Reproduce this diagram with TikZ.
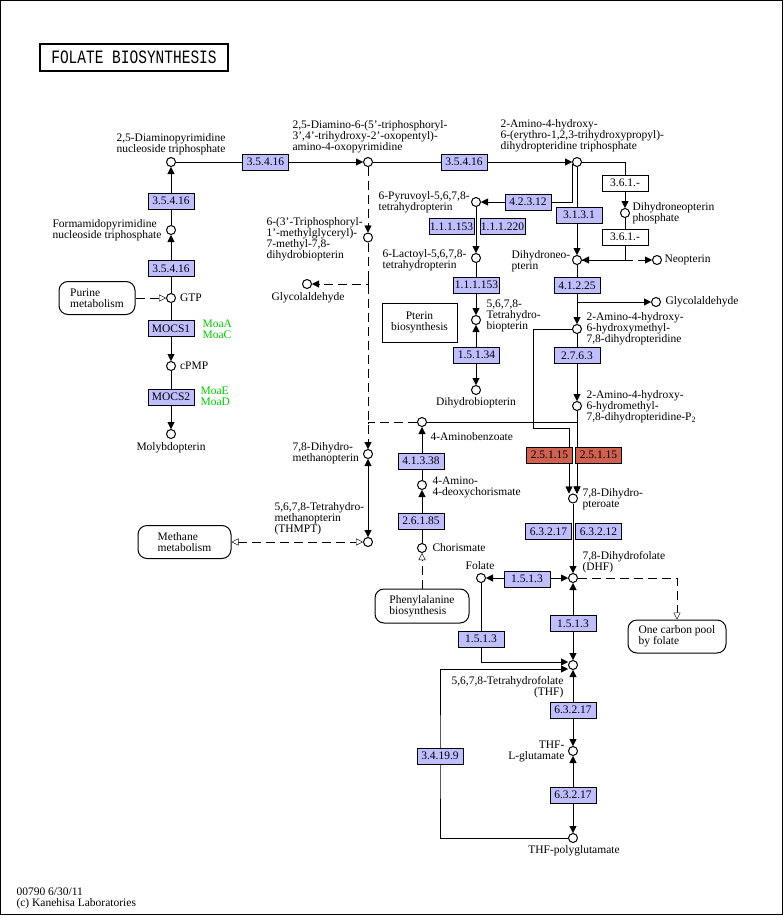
\documentclass[tikz,border=0pt]{standalone}
\usepackage{fontspec}
\setmainfont{Liberation Serif}
\setmonofont{Liberation Mono}
\usepackage{graphicx}
\usetikzlibrary{arrows.meta}
\definecolor{enzblue}{HTML}{BFBFFF}
\definecolor{enzred}{HTML}{D06050}
\definecolor{genegreen}{HTML}{00CC00}
\pgfdeclarelayer{bg}
\pgfsetlayers{bg,main}
\begin{document}
\begin{tikzpicture}[x=1pt,y=-1pt,
    font=\fontsize{11.5}{11}\selectfont,
    line width=1.1pt,
    >={Triangle[length=7pt,width=7pt]},
    hollow/.tip={Triangle[length=7pt,width=7pt,fill=white]},
    cpd/.style={circle,draw,fill=white,minimum size=9pt,inner sep=0pt,line width=1pt},
    enz/.style={draw,fill=enzblue,minimum width=46pt,minimum height=16pt,inner sep=0pt,line width=1pt},
    hit/.style={enz,fill=enzred},
    plain/.style={enz,fill=white},
    lbl/.style={inner sep=0pt,align=left},
    gene/.style={lbl,text=genegreen},
    mapbox/.style={draw,rounded corners=9pt,align=left,inner sep=0pt,line width=1pt},
    dashline/.style={dash pattern=on 9pt off 5pt}]
  \useasboundingbox (0,0) rectangle (784,916);
  \draw[line width=1.4pt] (0.7,0.7) rectangle (782.3,914.3);
  \node[draw,line width=2.4pt,minimum width=188pt,minimum height=27pt,inner sep=0pt] (title) at (134,57.5)
    {\scalebox{1}[1.3]{\ttfamily\fontsize{14.5}{14.5}\selectfont FOLATE BIOSYNTHESIS}};

  % GTP and molybdopterin
  \node[cpd] (dapt) at (171,162) {};
  \node[lbl,align=center] (daptlab) at (171,144.5) {2,5-Diaminopyrimidine\\nucleoside triphosphate};
  \node[enz] (e1) at (171,201) {3.5.4.16};
  \node[cpd] (fapt) at (171,230) {};
  \node[lbl,anchor=west] (faptlab) at (52,230.5) {Formamidopyrimidine\\nucleoside triphosphate};
  \node[enz] (e2) at (171,268.5) {3.5.4.16};
  \node[cpd] (gtp) at (171,298) {};
  \node[lbl,anchor=west] (gtplab) at (179.5,298) {GTP};
  \node[mapbox,minimum width=76pt,minimum height=33pt] (purine) at (97,298) {Purine\\metabolism};
  \node[enz] (mocs1) at (171,328.5) {MOCS1};
  \node[gene,anchor=west] (moa1) at (202,329) {MoaA\\MoaC};
  \node[cpd] (cpmp) at (171,366) {};
  \node[lbl,anchor=west] (cpmplab) at (179.5,366) {cPMP};
  \node[enz] (mocs2) at (171,397) {MOCS2};
  \node[gene,anchor=west] (moa2) at (200,396.5) {MoaE\\MoaD};
  \node[cpd] (molyb) at (171,434) {};
  \node[lbl] (molyblab) at (171,447.5) {Molybdopterin};

  % top row
  \node[enz] (e3) at (265.5,162) {3.5.4.16};
  \node[cpd] (dapo) at (368,162) {};
  \node[lbl,anchor=west] (dapolab) at (292,136.5) {2,5-Diamino-6-(5'-triphosphoryl-\\3',4'-trihydroxy-2'-oxopentyl)-\\amino-4-oxopyrimidine};
  \node[enz] (e4) at (464,162) {3.5.4.16};
  \node[cpd] (ahtp) at (577,162) {};
  \node[lbl,anchor=west] (ahtplab) at (500,136) {2-Amino-4-hydroxy-\\6-(erythro-1,2,3-trihydroxypropyl)-\\dihydropteridine triphosphate};

  % dihydroneopterin
  \node[plain] (e5) at (625,183) {3.6.1.-};
  \node[cpd] (dnp) at (625,213) {};
  \node[lbl,anchor=west] (dnplab) at (632,213) {Dihydroneopterin\\phosphate};
  \node[plain] (e6) at (625,237) {3.6.1.-};
  \node[enz] (e26) at (579,215) {3.1.3.1};
  \node[cpd] (dhn) at (577,260) {};
  \node[lbl,anchor=west] (dhnlab) at (511,261) {Dihydroneo-\\pterin};
  \node[cpd] (neo) at (657,260) {};
  \node[lbl,anchor=west] (neolab) at (664,260) {Neopterin};
  \node[enz] (e7) at (577,285.5) {4.1.2.25};
  \node[cpd] (glyb) at (656,302) {};
  \node[lbl,anchor=west] (glyblab) at (665,302) {Glycolaldehyde};
  \node[cpd] (ahm) at (577,329) {};
  \node[lbl,anchor=west] (ahmlab) at (586,328.5) {2-Amino-4-hydroxy-\\6-hydroxymethyl-\\7,8-dihydropteridine};
  \node[enz] (e8) at (577,355.5) {2.7.6.3};
  \node[cpd] (ahmp) at (577,406) {};
  \node[lbl,anchor=west] (ahmplab) at (586,406.5) {2-Amino-4-hydroxy-\\6-hydromethyl-\\7,8-dihydropteridine-P\textsubscript{2}};

  % biopterin
  \node[enz] (e9) at (528,202) {4.2.3.12};
  \node[cpd] (pyr) at (476,202) {};
  \node[lbl,anchor=west] (pyrlab) at (378,202.5) {6-Pyruvoyl-5,6,7,8-\\tetrahydropterin};
  \node[enz,minimum width=45pt] (e10) at (451.5,226.5) {1.1.1.153};
  \node[enz,minimum width=45pt] (e11) at (502.5,226.5) {1.1.1.220};
  \node[cpd] (lac) at (476,258) {};
  \node[lbl,anchor=west] (laclab) at (382,260) {6-Lactoyl-5,6,7,8-\\tetrahydropterin};
  \node[enz] (e12) at (476.5,285) {1.1.1.153};
  \node[cpd] (thb) at (476,320) {};
  \node[lbl,anchor=west] (thblab) at (486,315.5) {5,6,7,8-\\Tetrahydro-\\biopterin};
  \node[draw,line width=1pt,minimum width=75pt,minimum height=39pt,align=center,inner sep=0pt] (pterin) at (419.5,322.5) {Pterin\\biosynthesis};
  \node[enz] (e13) at (476.5,355) {1.5.1.34};
  \node[cpd] (dhb) at (476,390) {};
  \node[lbl] (dhblab) at (476,403) {Dihydrobiopterin};

  % methanopterin
  \node[cpd] (tmd) at (368,237.5) {};
  \node[lbl,anchor=west] (tmdlab) at (266,239) {6-(3'-Triphosphoryl-\\1'-methylglyceryl)-\\7-methyl-7,8-\\dihydrobiopterin};
  \node[cpd] (glya) at (307,284) {};
  \node[lbl] (glyalab) at (308,298) {Glycolaldehyde};
  \node[cpd] (dhmpt) at (368,454) {};
  \node[lbl,anchor=west] (dhmptlab) at (292,453.5) {7,8-Dihydro-\\methanopterin};
  \node[cpd] (thmpt) at (368,542) {};
  \node[lbl,anchor=west] (thmptlab) at (274,519) {5,6,7,8-Tetrahydro-\\methanopterin\\(THMPT)};
  \node[mapbox,minimum width=93pt,minimum height=33pt] (methane) at (184.5,542) {Methane\\metabolism};

  % aminobenzoate
  \node[cpd] (abz) at (422,422) {};
  \node[lbl,anchor=west] (abzlab) at (430,437) {4-Aminobenzoate};
  \node[enz] (e14) at (421,461) {4.1.3.38};
  \node[cpd] (adc) at (422,485) {};
  \node[lbl,anchor=west] (adclab) at (432,487.5) {4-Amino-\\4-deoxychorismate};
  \node[enz] (e15) at (421,521) {2.6.1.85};
  \node[cpd] (chor) at (422,548) {};
  \node[lbl,anchor=west] (chorlab) at (432,547.5) {Chorismate};
  \node[mapbox,minimum width=94pt,minimum height=34pt] (phe) at (422,606) {Phenylalanine\\biosynthesis};

  % folate
  \node[hit] (e16) at (549.5,455) {2.5.1.15};
  \node[hit] (e17) at (598.5,455) {2.5.1.15};
  \node[cpd] (dhp) at (573,498.5) {};
  \node[lbl,anchor=west] (dhplab) at (582,499.5) {7,8-Dihydro-\\pteroate};
  \node[enz] (e18) at (548.5,531.5) {6.3.2.17};
  \node[enz] (e19) at (598.5,531.5) {6.3.2.12};
  \node[cpd] (dhf) at (573,578) {};
  \node[lbl,anchor=west] (dhflab) at (582,562.5) {7,8-Dihydrofolate\\(DHF)};
  \node[enz] (e20) at (527,579) {1.5.1.3};
  \node[cpd] (fol) at (481,578) {};
  \node[lbl] (follab) at (480,566) {Folate};
  \node[mapbox,minimum width=98pt,minimum height=33pt] (onec) at (677,636.5) {One carbon pool\\by folate};
  \node[enz] (e21) at (573,623.5) {1.5.1.3};
  \node[enz] (e22) at (481,639) {1.5.1.3};
  \node[cpd] (thf) at (573,665) {};
  \node[lbl,anchor=east,align=right] (thflab) at (564,687) {5,6,7,8-Tetrahydrofolate\\(THF)};
  \node[enz] (e23) at (573,710) {6.3.2.17};
  \node[cpd] (thfg) at (573,751) {};
  \node[lbl,anchor=east,align=right] (thfglab) at (565,751) {THF-\\L-glutamate};
  \node[enz] (e24) at (573,795) {6.3.2.17};
  \node[cpd] (thfpg) at (573,838) {};
  \node[lbl] (thfpglab) at (574,850.5) {THF-polyglutamate};
  \node[enz] (e25) at (440,756) {3.4.19.9};

  \node[lbl,anchor=west] (foot) at (16,898) {00790 6/30/11\\(c) Kanehisa Laboratories};

  \begin{pgfonlayer}{bg}
    \draw[->] (gtp) -- (fapt);
    \draw[->] (fapt) -- (dapt);
    \draw[->] (gtp) -- (cpmp);
    \draw[->] (cpmp) -- (molyb);
    \draw[dashline,-hollow] (purine) -- (gtp);
    \draw[->] (dapt) -- (dapo);
    \draw[->] (dapo) -- (ahtp);
    \draw[->] (ahtp) -| (dnp);
    \draw[->] (dnp) |- (dhn);
    \draw[dashline,->] (dhn) -- (neo);
    \draw[->] (ahtp.207) |- (pyr);
    \draw[->] (ahtp) -- (dhn);
    \draw[->] (pyr) -- (lac);
    \draw[->] (lac) -- (thb);
    \draw[<->] (thb) -- (dhb);
    \draw[->] (dhn) -- (ahm);
    \draw[->] (e7.south) |- (glyb);
    \draw[->] (ahm) -- (ahmp);
    \draw[->] (ahmp) -- (ahmp |- dhp.north);
    \draw[->] (abz) -| (ahmp |- dhp.north);
    \draw[->] (ahm) -- (533,329) -- (533,428) -| ([xshift=-4pt]dhp.north);
    \draw[->] (dhp) -- (dhf);
    \draw[<->] (fol) -- (dhf);
    \draw[dashline,-hollow] (dhf) -| (onec);
    \draw[<->] (dhf) -- (thf);
    \draw[->] (fol) |- ([yshift=3pt]thf.west);
    \draw[->] (thfpg) -| (440,760) |- ([yshift=-4pt]thf.west);
    \draw[<->] (thf) -- (thfg);
    \draw[<->] (thfg) -- (thfpg);
    % methanopterin side
    \draw[dashline,->] (dapo) -- (tmd);
    \draw[dashline,->] (tmd) -- (dhmpt);
    \coordinate (glyfork) at (368,277);
    \draw[dashline,->] (glyfork) |- (glya);
    \coordinate (abzjoin) at (368,434);
    \draw[dashline] (abz) -| (abzjoin);
    \draw[<->] (dhmpt) -- (thmpt);
    \draw[dashline,hollow-hollow] (methane) -- (thmpt);
    \draw[->] (adc) -- (abz);
    \draw[->] (chor) -- (adc);
    \draw[dashline,-hollow] (phe) -- (chor);
  \end{pgfonlayer}
\end{tikzpicture}
\end{document}
